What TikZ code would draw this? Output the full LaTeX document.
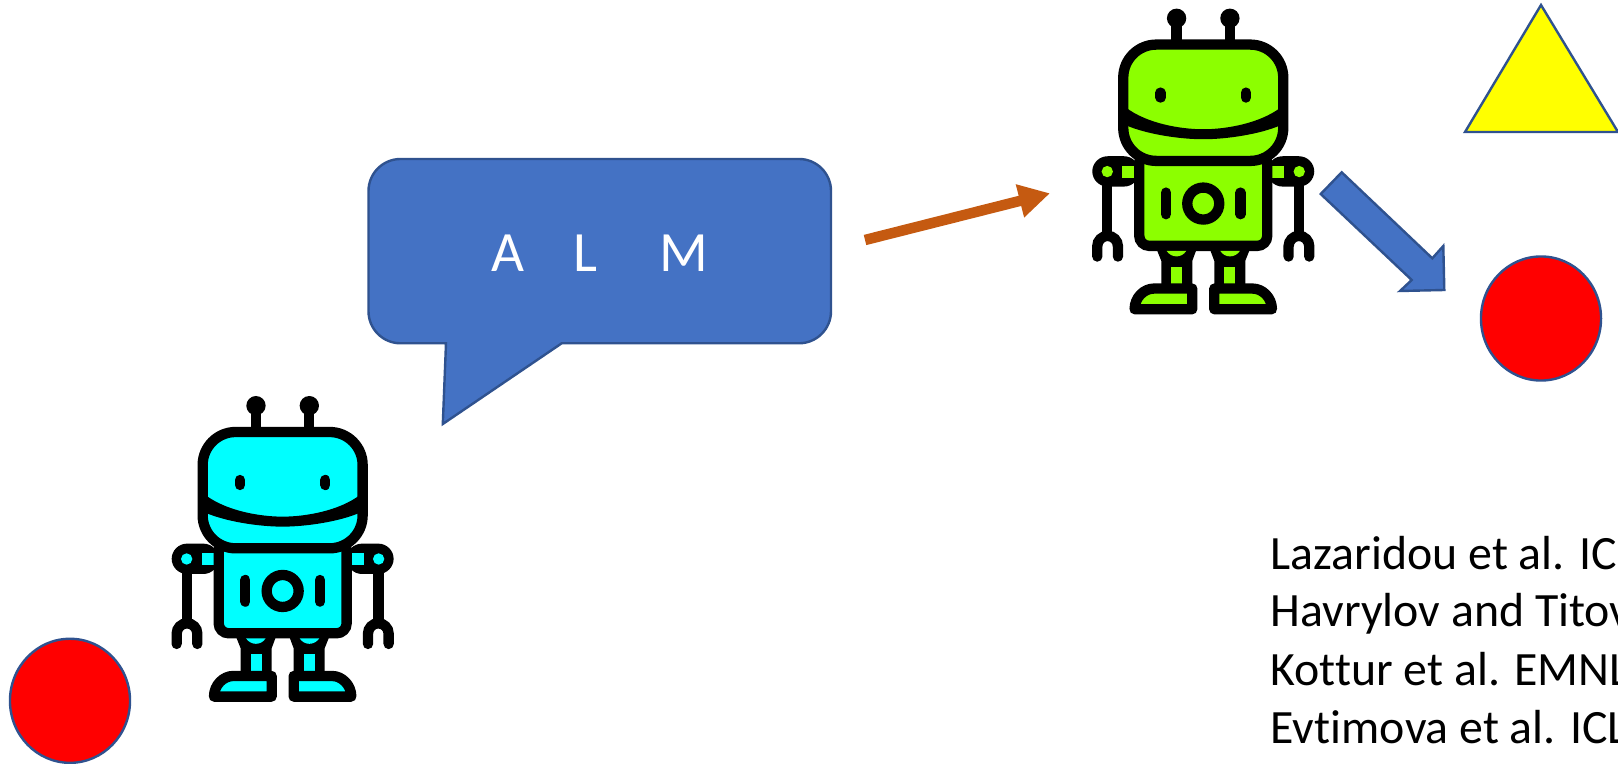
\documentclass[tikz,border=0pt]{standalone}
\usepackage{fontspec}
\setmainfont{Carlito}[Ligatures=NoCommon]
\usepackage{xcolor}
\usepackage{tikz}
\usetikzlibrary{shapes.geometric, arrows.meta}
\definecolor{shapeblue}{RGB}{68, 114, 196}
\definecolor{shapeedge}{RGB}{47, 82, 143}
\definecolor{shapeyellow}{RGB}{255, 255, 0}
\definecolor{shapered}{RGB}{255, 0, 0}
\definecolor{arroworange}{RGB}{197, 90, 17}
\definecolor{robotcyan}{RGB}{0, 255, 255}
\definecolor{robotgreen}{RGB}{140, 255, 0}

\tikzset{
    shapeline/.style={draw=shapeedge, line width=0.024cm, line join=miter},
    redball/.style={ellipse, shapeline, fill=shapered, inner sep=0pt, outer sep=0pt, minimum width=1.2cm, minimum height=1.24cm},
    robotline/.style={draw=black, line width=0.103cm},
    citeline/.style={anchor=base west, inner sep=0pt, font=\fontsize{13.6}{16}\selectfont}
}

% #1,#2 = corner of the robot, #3 = colour of the robot
\newcommand{\drawrobot}[3]{
\begin{scope}[shift={(#1,#2)}, scale=0.3333, shift={(398,0)}]
    \foreach \side in {-1,1} {
    \begin{scope}[xscale=\side]
        % antenna
        \draw[robotline] (80,77) -- (80,156);
        \fill[black] (80,77) circle (29);
        % arm and hand
        \draw[robotline] (288,567) -- (288,730);
        \draw[robotline, line cap=round] (318,792) -- (318,761) .. controls (318,744) and (304,730) .. (287,730) .. controls (270,730) and (256,744) .. (256,761) -- (256,792);
        \fill[black, rounded corners=0.153cm] (333,491) rectangle (192,582);
        \fill[#3] (288,537) circle (17);
        \fill[#3] (243,520) rectangle (205,555);
        % leg and foot
        \fill[black] (140,770) -- (20,770) -- (33,805) -- (33,880) -- (126,880) -- (126,805) -- cycle;
        \fill[#3] (96,822) rectangle (63,873);
        \draw[robotline, fill=#3, line join=round] (206,950) .. controls (206,915) and (178,888) .. (148,888) -- (33,888) -- (33,950) -- cycle;
    \end{scope}
    }
    % body
    \draw[robotline, fill=#3, rounded corners=0.1cm] (-192,480) -- (-192,760) -- (192,760) -- (192,480) -- cycle;
    \foreach \side in {-1,1} {
    \begin{scope}[xscale=\side]
        \fill[#3] (110,775) .. controls (95,797) and (65,797) .. (51,775) -- cycle;
        \draw[robotline, line cap=round] (112,600) -- (112,665);
    \end{scope}
    }
    \draw[robotline] (0,633) circle (48);
    % head
    \draw[robotline, fill=#3, rounded corners=0.33cm] (-240,156) rectangle (240,505);
    \foreach \side in {-1,1} {
        \draw[robotline, line cap=round] (\side*128,300) -- (\side*128,315);
    }
    % smile
    \fill[black] (-232,345) .. controls (-170,392) and (-70,410) .. (0,410) .. controls (70,410) and (170,392) .. (232,345) -- (232,398) .. controls (170,425) and (70,440) .. (0,440) .. controls (-70,440) and (-170,425) .. (-232,398) -- cycle;
\end{scope}
}

\begin{document}
\begin{tikzpicture}[x=0.01cm, y=-0.01cm]
\useasboundingbox (0,0) rectangle (1618,764);

% Speaker robot with its object
\node[redball] (leftball) at (70,700.8) {};
\drawrobot{150}{380}{robotcyan}

% Speech bubble
\draw[shapeline, fill=shapeblue] (446,343.3) [rounded corners=0.32cm] -- (368.5,343.3) -- (368.5,159) -- (831,159) -- (831,343.3) [sharp corners] -- (561.7,343.3) -- (442.8,424) -- cycle;
\node[anchor=base west, inner sep=0pt, text=white, font=\fontsize{16.2}{19}\selectfont] (message) at (491,271.7) {A\hspace{0.49cm}L\hspace{0.62cm}M};

% Message goes to the listener
\coordinate (sendstart) at (865,240);
\coordinate (sendend) at (1050,193.3);
\draw[arroworange, line width=0.105cm, -{Triangle[length=0.31cm, width=0.32cm]}] (sendstart) -- (sendend);

% Listener robot with its two objects
\drawrobot{1070.6}{-7.4}{robotgreen}
\draw[shapeline, fill=shapeyellow] (1541,5) -- (1618,132) -- (1465,132) -- cycle;
\node[redball] (rightball) at (1541,318.5) {};

% Choice arrow
\draw[shapeline, fill=shapeblue] (1341.7,172.3) -- (1320.7,194) -- (1411.7,280) -- (1400,291) -- (1444.3,290) -- (1443.3,246) -- (1432.3,258.3) -- cycle;

% References
\node[citeline] (citea) at (1270,570) {Lazaridou et al. ICL};
\node[citeline] (citeb) at (1270,626.7) {Havrylov and Titov};
\node[citeline] (citec) at (1270,685) {Kottur et al. EMNL};
\node[citeline] (cited) at (1270,743.3) {Evtimova et al. ICL};
\end{tikzpicture}
\end{document}
